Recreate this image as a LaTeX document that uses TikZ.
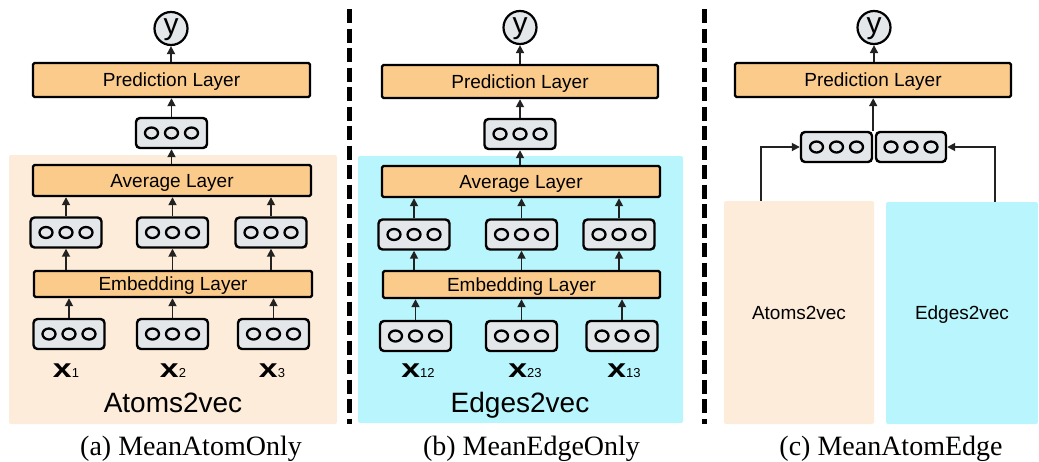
\documentclass[tikz,border=0pt]{standalone}
\usepackage{fontspec}
\usepackage{graphicx}
\setmainfont{Liberation Serif}
\setsansfont{Liberation Sans}
\usetikzlibrary{arrows.meta}

\definecolor{peach}{HTML}{FDECD9}
\definecolor{skyc}{HTML}{B9F5FC}
\definecolor{layerfill}{HTML}{FBCB8C}
\definecolor{vecfill}{HTML}{E3E7EA}
\definecolor{ink}{HTML}{222222}

\tikzset{
  layer/.style={draw=black, line width=2.4pt, fill=layerfill, rounded corners=1.5pt,
    font=\sffamily\fontsize{19}{19}\selectfont, text depth=0pt, inner sep=0pt},
  vbox/.style={draw=black, line width=2.4pt, fill=vecfill, rounded corners=4pt,
    minimum width=71pt, minimum height=30pt, inner sep=0pt},
  dot/.style={draw=black, line width=2.3pt},
  outc/.style={circle, draw=black, line width=2.2pt, fill=vecfill, minimum size=33pt, inner sep=0pt},
  ytext/.style={anchor=base, font=\sffamily\fontsize{30}{30}\selectfont, inner sep=0pt},
  arr/.style={-{Triangle[width=8pt,length=8pt]}, line width=1.7pt, draw=ink},
  xlab/.style={anchor=base, inner sep=0pt},
  bigname/.style={anchor=base, font=\sffamily\fontsize{28}{28}\selectfont, inner sep=0pt},
  smallname/.style={font=\sffamily\fontsize{19}{19}\selectfont, text depth=0pt, inner sep=0pt},
  caption/.style={anchor=base, font=\fontsize{28}{28}\selectfont, inner sep=0pt},
  separator/.style={line width=5pt, draw=black, dash pattern=on 14pt off 5.5pt},
  panel/.style={draw=none, rounded corners=2pt, inner sep=0pt},
}

% vector with three units: name, x, y
\newcommand\vecbox[3]{%
  \node[vbox] (#1) at (#2,#3) {};
  \foreach \d in {-20,0,20}
    \draw[dot] ([xshift=\d pt]#1.center) ellipse (6.5pt and 5.5pt);
}
% bold input symbol with subscript
\newcommand\xv[1]{{\sffamily\fontsize{26}{26}\selectfont\scalebox{1.3}[1]{\bfseries x}}{\sffamily\fontsize{13}{13}\selectfont #1}}

\begin{document}
\begin{tikzpicture}[x=1pt, y=-1pt]
\useasboundingbox (0,0) rectangle (1039,461);

% ---------------- (a) MeanAtomOnly ----------------
\node[panel, fill=peach, minimum width=328pt, minimum height=269pt] (bga) at (173,289.5) {};
\node[outc] (ya) at (171,28.5) {};
\node[ytext] (yta) at (171,34) {y};
\node[layer, minimum width=277pt, minimum height=34pt] (preda) at (171.5,80) {Prediction Layer};
\vecbox{va}{171.5}{133}
\node[layer, minimum width=278pt, minimum height=31pt] (avga) at (172,180.5) {Average Layer};
\vecbox{ha1}{66}{232.5}
\vecbox{ha2}{172.5}{232.5}
\vecbox{ha3}{271}{232.5}
\node[layer, minimum width=278pt, minimum height=26pt] (emba) at (173,284) {Embedding Layer};
\vecbox{ia1}{69}{334}
\vecbox{ia2}{172.5}{334}
\vecbox{ia3}{273.5}{334}
\node[xlab] (xa1) at (66,377) {\xv{1}};
\node[xlab] (xa2) at (173,377) {\xv{2}};
\node[xlab] (xa3) at (272,377) {\xv{3}};
\node[bigname] (na) at (173,412) {Atoms2vec};
\node[caption] (capa) at (191,455) {(a) MeanAtomOnly};

\draw[arr] (preda.north -| ya) -- (ya.south);
\draw[arr] (va.north) -- (va.north |- preda.south);
\draw[arr] (va |- avga.north) -- (va.south);
\foreach \n in {ha1,ha2,ha3} {
  \draw[arr] (\n.north) -- (\n.north |- avga.south);
  \draw[arr] (\n |- emba.north) -- (\n.south);
}
\foreach \n in {ia1,ia2,ia3} \draw[arr] (\n.north) -- (\n.north |- emba.south);

% ---------------- (b) MeanEdgeOnly ----------------
\node[panel, fill=skyc, minimum width=325pt, minimum height=267pt] (bgb) at (520.5,289.5) {};
\node[outc] (yb) at (520,27.5) {};
\node[ytext] (ytb) at (520,33) {y};
\node[layer, minimum width=276pt, minimum height=33pt] (predb) at (520,81.5) {Prediction Layer};
\vecbox{vb}{520}{134}
\node[layer, minimum width=278pt, minimum height=31pt] (avgb) at (521,181.5) {Average Layer};
\vecbox{hb1}{414}{234.5}
\vecbox{hb2}{521.5}{234.5}
\vecbox{hb3}{619}{234.5}
\node[layer, minimum width=277pt, minimum height=27pt] (embb) at (521.5,284.5) {Embedding Layer};
\vecbox{ib1}{415.5}{336}
\vecbox{ib2}{521.5}{336}
\vecbox{ib3}{622}{336}
\node[xlab] (xb1) at (418,377.5) {\xv{12}};
\node[xlab] (xb2) at (525,377.5) {\xv{23}};
\node[xlab] (xb3) at (624,377.5) {\xv{13}};
\node[bigname] (nb) at (520,412) {Edges2vec};
\node[caption] (capb) at (531.5,455) {(b) MeanEdgeOnly};

\draw[arr] (predb.north -| yb) -- (yb.south);
\draw[arr] (vb.north) -- (vb.north |- predb.south);
\draw[arr] (vb |- avgb.north) -- (vb.south);
\foreach \n in {hb1,hb2,hb3} {
  \draw[arr] (\n.north) -- (\n.north |- avgb.south);
  \draw[arr] (\n |- embb.north) -- (\n.south);
}
\foreach \n in {ib1,ib2,ib3} \draw[arr] (\n.north) -- (\n.north |- embb.south);

% ---------------- (c) MeanAtomEdge ----------------
\node[panel, fill=peach, minimum width=150pt, minimum height=223pt, smallname] (atc) at (799,312.5) {Atoms2vec};
\node[panel, fill=skyc, minimum width=152pt, minimum height=222pt, smallname] (edc) at (962,313) {Edges2vec};
\node[outc] (yc) at (874,27.5) {};
\node[ytext] (ytc) at (874,33) {y};
\node[layer, minimum width=276pt, minimum height=34pt] (predc) at (873,80) {Prediction Layer};
\node[vbox] (vcl) at (836.5,147) {};
\node[vbox, minimum width=70pt] (vcr) at (911,147) {};
\foreach \n in {vcl,vcr}
  \foreach \d in {-20,0,20}
    \draw[dot] ([xshift=\d pt]\n.center) ellipse (6.5pt and 5.5pt);

\draw[arr] (vcl.north east) -- (predc.south -| vcl.north east);
\draw[arr] (predc.north -| yc) -- (yc.south);
\draw[arr] ([xshift=-38pt]atc.north) |- (vcl.west);
\draw[arr] ([xshift=33pt]edc.north) |- (vcr.east);
\node[caption] (capc) at (891,455) {(c) MeanAtomEdge};

% ---------------- panel separators ----------------
\draw[separator] (349.5,9) -- (349.5,424);
\draw[separator] (704.5,9) -- (704.5,424);
\end{tikzpicture}
\end{document}
